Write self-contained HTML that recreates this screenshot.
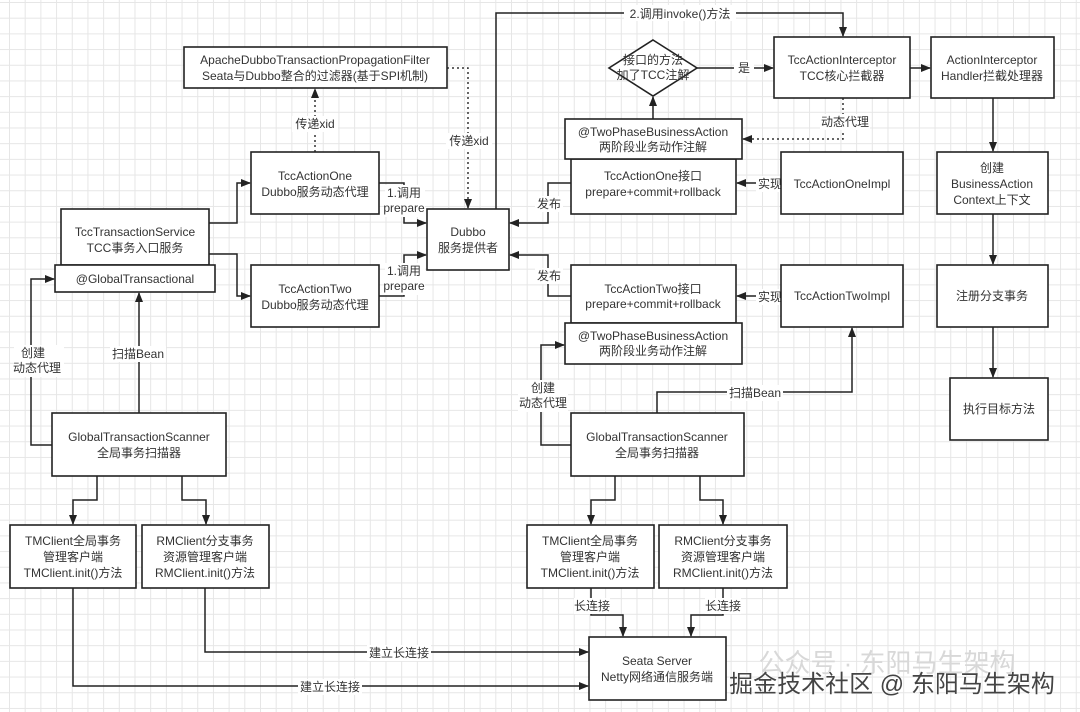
<!DOCTYPE html>
<html><head><meta charset="utf-8">
<style>
html,body{margin:0;padding:0;}
body{width:1080px;height:712px;overflow:hidden;background-color:#fff;
background-image:linear-gradient(to right,#e6e6e6 1px,transparent 1px),linear-gradient(to bottom,#e6e6e6 1px,transparent 1px);
background-size:15.7px 15.7px;background-position:9px 2px;}
svg{position:absolute;left:0;top:0;}
text{font-family:"Liberation Sans","Noto Sans CJK SC",sans-serif;font-size:12px;fill:#333;text-anchor:middle;}
.b{fill:#fff;stroke:#222;stroke-width:1.6;}
.l{fill:none;stroke:#222;stroke-width:1.5;}
.d{fill:none;stroke:#333;stroke-width:1.5;stroke-dasharray:2,3;}
.lb{fill:#fff;}
</style></head><body>
<svg width="1080" height="712" viewBox="0 0 1080 712">
<defs><marker id="a" markerWidth="10" markerHeight="10" refX="9" refY="5" orient="auto" markerUnits="userSpaceOnUse"><path d="M0,1 L10,5 L0,9 Z" fill="#222"/></marker></defs>

<!-- connectors -->
<polyline class="l" points="52,445 31,445 31,279 54,279" marker-end="url(#a)"/>
<polyline class="l" points="139,413 139,293" marker-end="url(#a)"/>
<polyline class="l" points="209,223 237,223 237,183 250,183" marker-end="url(#a)"/>
<polyline class="l" points="209,254 237,254 237,296 250,296" marker-end="url(#a)"/>
<polyline class="l" points="379,183 404,183 404,223 426,223" marker-end="url(#a)"/>
<polyline class="l" points="379,296 404,296 404,255 426,255" marker-end="url(#a)"/>
<polyline class="d" points="315,152 315,89" marker-end="url(#a)"/>
<polyline class="d" points="447,68 468,68 468,208" marker-end="url(#a)"/>
<polyline class="l" points="571,183 548,183 548,223 510,223" marker-end="url(#a)"/>
<polyline class="l" points="571,296 548,296 548,255 510,255" marker-end="url(#a)"/>
<polyline class="l" points="496,209 496,13 843,13 843,36" marker-end="url(#a)"/>
<polyline class="l" points="653,119 653,97" marker-end="url(#a)"/>
<polyline class="l" points="697,68 773,68" marker-end="url(#a)"/>
<polyline class="l" points="910,68 930,68" marker-end="url(#a)"/>
<polyline class="d" points="843,98 843,139 743,139" marker-end="url(#a)"/>
<polyline class="l" points="781,183 737,183" marker-end="url(#a)"/>
<polyline class="l" points="781,296 737,296" marker-end="url(#a)"/>
<polyline class="l" points="993,98 993,151" marker-end="url(#a)"/>
<polyline class="l" points="993,214 993,264" marker-end="url(#a)"/>
<polyline class="l" points="993,327 993,377" marker-end="url(#a)"/>
<polyline class="l" points="571,445 541,445 541,345 564,345" marker-end="url(#a)"/>
<polyline class="l" points="657,413 657,392 852,392 852,328" marker-end="url(#a)"/>
<polyline class="l" points="97,476 97,500 73,500 73,524" marker-end="url(#a)"/>
<polyline class="l" points="182,476 182,500 206,500 206,524" marker-end="url(#a)"/>
<polyline class="l" points="615,476 615,500 591,500 591,524" marker-end="url(#a)"/>
<polyline class="l" points="700,476 700,500 723,500 723,524" marker-end="url(#a)"/>
<polyline class="l" points="591,588 591,615 623,615 623,636" marker-end="url(#a)"/>
<polyline class="l" points="723,588 723,615 691,615 691,636" marker-end="url(#a)"/>
<polyline class="l" points="205,588 205,652 588,652" marker-end="url(#a)"/>
<polyline class="l" points="73,588 73,686 588,686" marker-end="url(#a)"/>

<!-- labels on lines -->
<rect class="lb" x="624" y="5" width="112" height="16"/><text x="680" y="18">2.调用invoke()方法</text>
<rect class="lb" x="292" y="116" width="46" height="16"/><text x="315" y="128">传递xid</text>
<rect class="lb" x="446" y="133" width="46" height="16"/><text x="469" y="145">传递xid</text>
<rect class="lb" x="385" y="185" width="40" height="32"/><text x="404" y="197">1.调用</text><text x="404" y="212">prepare</text>
<rect class="lb" x="385" y="263" width="40" height="32"/><text x="404" y="275">1.调用</text><text x="404" y="290">prepare</text>
<rect class="lb" x="535" y="196" width="28" height="16"/><text x="549" y="208">发布</text>
<rect class="lb" x="535" y="268" width="28" height="16"/><text x="549" y="280">发布</text>
<rect class="lb" x="734" y="60" width="20" height="16"/><text x="744" y="72">是</text>
<rect class="lb" x="820" y="114" width="50" height="16"/><text x="845" y="126">动态代理</text>
<rect class="lb" x="756" y="176" width="28" height="16"/><text x="770" y="188">实现</text>
<rect class="lb" x="756" y="289" width="28" height="16"/><text x="770" y="301">实现</text>
<rect class="lb" x="14" y="345" width="50" height="32"/><text x="33" y="357">创建</text><text x="37" y="372">动态代理</text>
<rect class="lb" x="110" y="346" width="56" height="16"/><text x="138" y="358">扫描Bean</text>
<rect class="lb" x="518" y="380" width="50" height="32"/><text x="543" y="392">创建</text><text x="543" y="407">动态代理</text>
<rect class="lb" x="727" y="385" width="56" height="16"/><text x="755" y="397">扫描Bean</text>
<rect class="lb" x="574" y="598" width="36" height="16"/><text x="592" y="610">长连接</text>
<rect class="lb" x="705" y="598" width="36" height="16"/><text x="723" y="610">长连接</text>
<rect class="lb" x="367" y="645" width="64" height="16"/><text x="399" y="657">建立长连接</text>
<rect class="lb" x="298" y="679" width="64" height="16"/><text x="330" y="691">建立长连接</text>

<!-- boxes -->
<rect class="b" x="184" y="47" width="263" height="41"/><text x="315" y="64">ApacheDubboTransactionPropagationFilter</text><text x="315" y="80">Seata与Dubbo整合的过滤器(基于SPI机制)</text>
<rect class="b" x="251" y="152" width="128" height="62"/><text x="315" y="180">TccActionOne</text><text x="315" y="196">Dubbo服务动态代理</text>
<rect class="b" x="251" y="265" width="128" height="62"/><text x="315" y="293">TccActionTwo</text><text x="315" y="309">Dubbo服务动态代理</text>
<rect class="b" x="61" y="209" width="148" height="56"/><text x="135" y="236">TccTransactionService</text><text x="135" y="252">TCC事务入口服务</text>
<rect class="b" x="55" y="265" width="160" height="27"/><text x="135" y="283">@GlobalTransactional</text>
<rect class="b" x="427" y="209" width="82" height="61"/><text x="468" y="236">Dubbo</text><text x="468" y="252">服务提供者</text>
<polygon class="b" points="653,40 697,68 653,96 609,68"/><text x="653" y="64">接口的方法</text><text x="653" y="79">加了TCC注解</text>
<rect class="b" x="774" y="37" width="136" height="61"/><text x="842" y="64">TccActionInterceptor</text><text x="842" y="80">TCC核心拦截器</text>
<rect class="b" x="931" y="37" width="123" height="61"/><text x="992" y="64">ActionInterceptor</text><text x="992" y="80">Handler拦截处理器</text>
<rect class="b" x="571" y="159" width="165" height="55"/><text x="653" y="180">TccActionOne接口</text><text x="653" y="196">prepare+commit+rollback</text>
<rect class="b" x="565" y="119" width="177" height="40"/><text x="653" y="136">@TwoPhaseBusinessAction</text><text x="653" y="151">两阶段业务动作注解</text>
<rect class="b" x="781" y="152" width="122" height="62"/><text x="842" y="188">TccActionOneImpl</text>
<rect class="b" x="937" y="152" width="111" height="62"/><text x="992" y="172">创建</text><text x="992" y="188">BusinessAction</text><text x="992" y="204">Context上下文</text>
<rect class="b" x="571" y="265" width="165" height="58"/><text x="653" y="293">TccActionTwo接口</text><text x="653" y="308">prepare+commit+rollback</text>
<rect class="b" x="565" y="323" width="177" height="41"/><text x="653" y="340">@TwoPhaseBusinessAction</text><text x="653" y="355">两阶段业务动作注解</text>
<rect class="b" x="781" y="265" width="122" height="62"/><text x="842" y="300">TccActionTwoImpl</text>
<rect class="b" x="937" y="265" width="111" height="62"/><text x="992" y="300">注册分支事务</text>
<rect class="b" x="950" y="378" width="98" height="62"/><text x="999" y="413">执行目标方法</text>
<rect class="b" x="52" y="413" width="174" height="63"/><text x="139" y="441">GlobalTransactionScanner</text><text x="139" y="457">全局事务扫描器</text>
<rect class="b" x="571" y="413" width="173" height="63"/><text x="657" y="441">GlobalTransactionScanner</text><text x="657" y="457">全局事务扫描器</text>
<rect class="b" x="10" y="525" width="126" height="63"/><text x="73" y="545">TMClient全局事务</text><text x="73" y="561">管理客户端</text><text x="73" y="577">TMClient.init()方法</text>
<rect class="b" x="142" y="525" width="127" height="63"/><text x="205" y="545">RMClient分支事务</text><text x="205" y="561">资源管理客户端</text><text x="205" y="577">RMClient.init()方法</text>
<rect class="b" x="527" y="525" width="127" height="63"/><text x="590" y="545">TMClient全局事务</text><text x="590" y="561">管理客户端</text><text x="590" y="577">TMClient.init()方法</text>
<rect class="b" x="659" y="525" width="128" height="63"/><text x="723" y="545">RMClient分支事务</text><text x="723" y="561">资源管理客户端</text><text x="723" y="577">RMClient.init()方法</text>
<rect class="b" x="589" y="637" width="137" height="63"/><text x="657" y="665">Seata Server</text><text x="657" y="681">Netty网络通信服务端</text>

<!-- watermark -->
<text x="887" y="672" style="font-size:26px;fill:#d8d8d8;">公众号 · 东阳马生架构</text>
<text x="892" y="692" style="font-size:24px;fill:#444;stroke:#fff;stroke-width:0.8;paint-order:stroke;">掘金技术社区 @ 东阳马生架构</text>
</svg>
</body></html>
